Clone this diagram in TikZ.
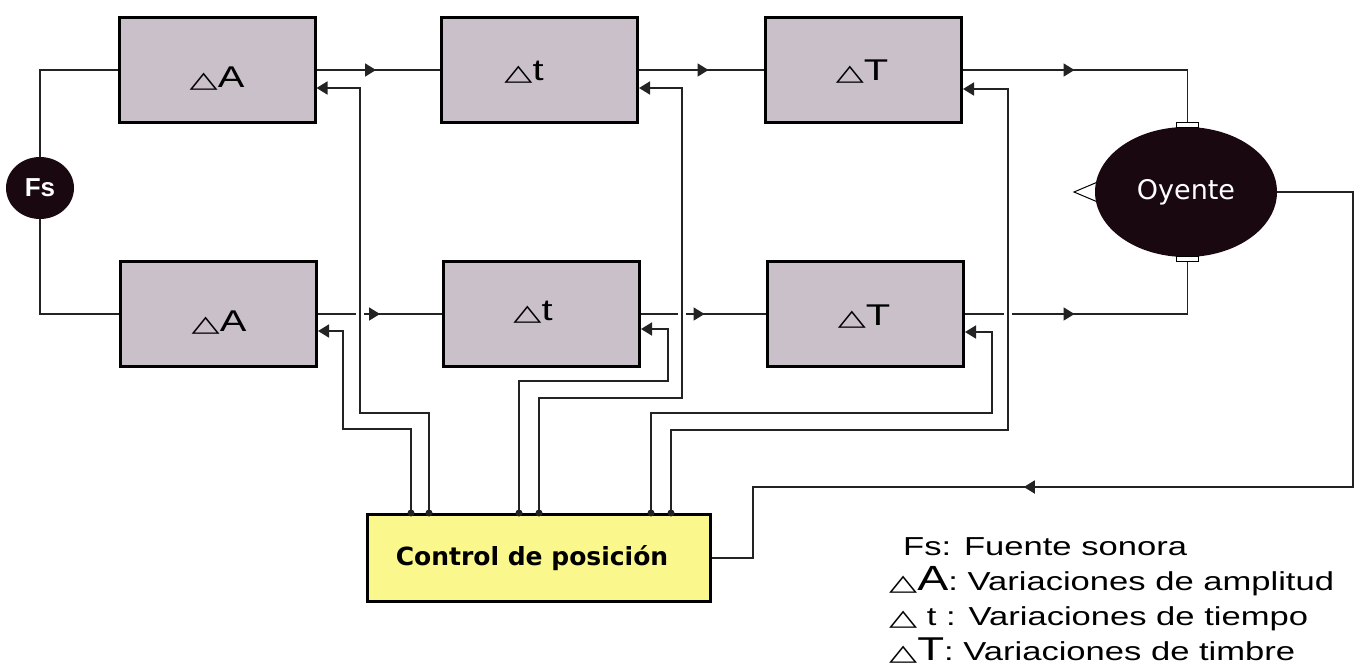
\documentclass[tikz,border=0pt]{standalone}
\usepackage{fontspec}
\usepackage{graphicx}
\setmainfont{Liberation Sans}
\newfontfamily\dejavu{DejaVu Sans}
\usetikzlibrary{arrows.meta,decorations.markings,calc,shapes.geometric}
\definecolor{boxfill}{RGB}{201,192,202}
\definecolor{ctrlfill}{RGB}{250,248,140}
\definecolor{darkfill}{RGB}{26,8,16}
\definecolor{linecol}{RGB}{35,35,35}
\newcommand\stx[1]{\scalebox{1.33}[1]{#1}}
\newcommand\mytri{{\dejavu\bfseries\fontsize{25}{25}\selectfont\scalebox{1.1}[0.9]{△}}}
\tikzset{
  blk/.style={draw=black, line width=3pt, fill=boxfill, minimum width=196pt, minimum height=105pt, inner sep=0pt},
  blklabel/.style={inner sep=0pt, font=\fontsize{30}{30}\selectfont},
  conn/.style={draw=linecol, line width=1.8pt},
  fb/.style={conn, -{Triangle[length=11pt,width=13pt]}},
  fwd/.style={postaction={decorate}, decoration={markings, mark=at position #1 with {\arrow[linecol]{Triangle[length=11pt,width=13pt]}}}},
  lg/.style={inner sep=0pt, anchor=base west, font=\fontsize{26}{30}\selectfont, text=black}
}
\begin{document}
\begin{tikzpicture}[x=1pt,y=-1pt]
\useasboundingbox (0,0) rectangle (1362,670);
% boxes
\node[blk] (tA) at (217,70) {};
\node[blk] (bA) at (218.5,314) {};
\node[blk] (tt) at (539.5,70) {};
\node[blk] (bt) at (541.5,314) {};
\node[blk] (tT) at (863.5,70) {};
\node[blk] (bT) at (865.5,314) {};
\node[blklabel] (tAl) at (217,79) {\stx{\mytri A}};
\node[blklabel] (bAl) at (219,323) {\stx{\mytri A}};
\node[blklabel] (ttl) at (524,72) {\stx{\mytri t}};
\node[blklabel] (btl) at (533,312) {\stx{\mytri t}};
\node[blklabel] (tTl) at (862,72) {\stx{\mytri T}};
\node[blklabel] (bTl) at (864,317) {\stx{\mytri T}};
% source
\node[ellipse, fill=darkfill, minimum width=68pt, minimum height=62pt, inner sep=0pt, text=white, font=\bfseries\fontsize{26}{26}\selectfont] (fs) at (40,188) {Fs};
\draw[conn] (fs) |- (tA);
\draw[conn] (fs) |- (bA);
% listener
\draw[draw=black, line width=1pt, fill=white] (1100,181) -- (1074,192) -- (1100,203) -- cycle;
\node[ellipse, fill=darkfill, minimum width=182pt, minimum height=130pt, inner sep=0pt, text=white, font=\dejavu\fontsize{27}{27}\selectfont] (oy) at (1186,192) {Oyente};
\node[draw=black, line width=1pt, fill=white, minimum width=22pt, minimum height=5pt, inner sep=0pt] (earT) at (1187.5,125) {};
\node[draw=black, line width=1pt, fill=white, minimum width=22pt, minimum height=5pt, inner sep=0pt] (earB) at (1187.5,259) {};
% control
\node[draw=black, line width=3pt, fill=ctrlfill, minimum width=343pt, minimum height=87pt, inner sep=0pt, font=\dejavu\bfseries\fontsize{25}{25}\selectfont] (ctrl) at (539,558) {Control de posición\hspace*{14pt}};
% forward connectors
\draw[conn, fwd=59.5pt] (tA) -- (tt);
\draw[conn, fwd=69.5pt] (tt) -- (tT);
\draw[conn, fwd=111.5pt] (tT) -| (earT);
\draw[conn, fwd=62pt] (bA) -- (bt);
\draw[conn, fwd=63.5pt] (bt) -- (bT);
\draw[conn, fwd=109.5pt] (bT) -| (earB);
% return from listener to control
\coordinate (r1) at (1353,192);
\coordinate (r2) at (1353,487);
\coordinate (r3) at (753,487);
\draw[conn, fwd=700pt] (oy.east) -- (r1) -- (r2) -- (r3) |- (ctrl);
% gaps where feedback lines cross the lower chain
\fill[white] (356,309) rectangle (364,319);
\fill[white] (678,309) rectangle (686,319);
\fill[white] (1004,309) rectangle (1012,319);
% feedback connectors
\coordinate (c1) at (411,513);
\coordinate (c2) at (429,513);
\coordinate (c3) at (519,513);
\coordinate (c4) at (539,513);
\coordinate (c5) at (651,513);
\coordinate (c6) at (671,513);
\draw[fb] (c1) |- (343,429) |- ($(bA.east)+(0,17)$);
\draw[fb] (c2) |- (360,413) |- ($(tA.east)+(0,18)$);
\draw[fb] (c3) |- (668,381) |- ($(bt.east)+(0,15)$);
\draw[fb] (c4) |- (682,398) |- ($(tt.east)+(0,18)$);
\draw[fb] (c5) |- (992,413) |- ($(bT.east)+(0,18)$);
\draw[fb] (c6) |- (1008,430) |- ($(tT.east)+(0,19)$);
\foreach \c in {c1,c2,c3,c4,c5,c6} \fill[linecol] (\c) circle (3.5pt);
% legend
\node[lg] (l1) at (903,555) {\stx{Fs: Fuente sonora}};
\node[lg] (l2) at (889,590) {\stx{\mytri{\fontsize{35}{35}\selectfont A}: Variaciones de amplitud}};
\node[lg] (l3) at (889,625) {\stx{\mytri\ t : Variaciones de tiempo}};
\node[lg] (l4) at (889,660) {\stx{\mytri{\fontsize{33}{33}\selectfont T}: Variaciones de timbre}};
\end{tikzpicture}
\end{document}
